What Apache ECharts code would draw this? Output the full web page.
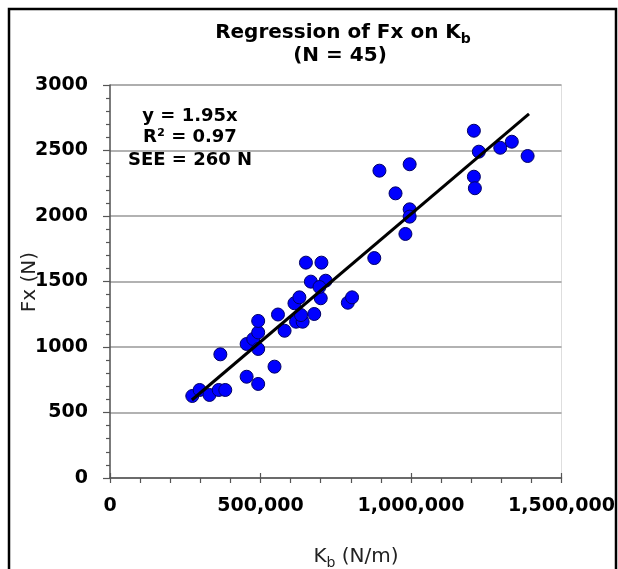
<!DOCTYPE html>
<html>
<head>
<meta charset="utf-8">
<script src="https://cdn.jsdelivr.net/npm/echarts@6/dist/echarts.min.js"></script>
<style>
  html, body { margin: 0; padding: 0; background: #ffffff; }
  #chart { width: 618px; height: 569px; }
</style>
</head>
<body>
<div id="chart"></div>
<script>
// Bending stiffness Kb (N/m) and force Fx (N) for each trial
const kb = [
  273400, 297700, 330500, 361100, 383000, 366600, 453900, 492300, 453900, 475900,
  492300, 492300, 492300, 546500, 558000, 580000, 612800, 629200, 618100, 640000,
  634500, 678500, 650900, 702400, 667300, 716500, 700100, 790100, 804200, 878000,
  895100, 995500, 948600, 995500, 995500, 981400, 1208900, 1225300, 1208900, 1212200,
  1296500, 1334900, 1387400, 695800
];
const fx = [
  626, 672, 634, 672, 672, 944, 773, 718, 1023, 1061,
  985, 1111, 1199, 850, 1248, 1124, 1334, 1379, 1193, 1193,
  1244, 1252, 1644, 1644, 1499, 1506, 1372, 1338, 1379, 1679,
  2346, 2395, 2173, 2051, 1995, 1863, 2651, 2491, 2300, 2212,
  2521, 2567, 2458, 1458
];

// Fitted line: slope of 1.95 N per mm of stiffness scale, small offset
const fitSlope = 1.95 / 1000;
const fitIntercept = 65;
const fitRange = [272000, 1392000];

const yTicks = { min: 0, max: 3000, step: 500 };
const xTicks = { min: 0, max: 1500000, step: 500000 };

const titleLines = ['Regression of Fx on K', 'b', '(N = 45)'];
const statLines = ['y = 1.95x', 'R\u00B2 = 0.97', 'SEE = 260 N'];

function withCommas(v) {
  return String(v).replace(/\B(?=(\d{3})+(?!\d))/g, ',');
}

const points = kb.map((k, i) => [k, fx[i]]);
const fitLine = fitRange.map(k => [k, fitSlope * k + fitIntercept]);

const FONT = 'DejaVu Sans';
const chart = echarts.init(document.getElementById('chart'), null, { renderer: 'canvas' });

chart.setOption({
  backgroundColor: '#ffffff',
  animation: false,
  grid: {
    left: 110, top: 85, width: 457, height: 393,
    show: true, borderColor: '#dedede', borderWidth: 1, backgroundColor: '#ffffff'
  },
  xAxis: [
    {
      type: 'value', min: xTicks.min, max: xTicks.max, interval: xTicks.step,
      axisLine: { show: true, lineStyle: { color: '#555', width: 1.5 } },
      axisTick: { show: true, inside: false, length: 5, lineStyle: { color: '#555', width: 1.2 } },
      minorTick: { show: true, splitNumber: 5, length: 5, lineStyle: { color: '#555', width: 1.2 } },
      splitLine: { show: false },
      axisLabel: {
        margin: 19, color: '#000', fontFamily: FONT, fontWeight: 'bold', fontSize: 19,
        formatter: withCommas
      }
    },
    {
      type: 'value', min: xTicks.min, max: xTicks.max, interval: xTicks.step,
      position: 'bottom',
      axisLine: { show: false },
      axisTick: { show: true, inside: true, length: 5, lineStyle: { color: '#555', width: 1.2 } },
      axisLabel: { show: false },
      splitLine: { show: false }
    }
  ],
  yAxis: {
    type: 'value', min: yTicks.min, max: yTicks.max, interval: yTicks.step,
    axisLine: { show: true, lineStyle: { color: '#555', width: 1.5 } },
    axisTick: { show: true, inside: false, length: 7, lineStyle: { color: '#555', width: 1.2 } },
    minorTick: { show: true, splitNumber: 5, length: 4, lineStyle: { color: '#555', width: 1.2 } },
    splitLine: { show: true, lineStyle: { color: '#999', width: 1.5 } },
    axisLabel: {
      margin: 22, color: '#000', fontFamily: FONT, fontWeight: 'bold', fontSize: 19,
      formatter: v => String(v)
    }
  },
  series: [
    {
      type: 'scatter',
      data: points,
      symbol: 'circle',
      symbolSize: 13,
      itemStyle: { color: '#0000ff', borderColor: '#000066', borderWidth: 1, opacity: 1 },
      z: 3
    },
    {
      type: 'line',
      data: fitLine,
      symbol: 'none',
      lineStyle: { color: '#000', width: 3 },
      z: 4
    }
  ],
  graphic: [
    {
      type: 'text', x: 343, y: 33, z: 10,
      style: {
        text: '{m|' + titleLines[0] + '}{s|' + titleLines[1] + '}',
        align: 'center', verticalAlign: 'middle',
        rich: {
          m: { fontFamily: FONT, fontWeight: 'bold', fontSize: 20, lineHeight: 26, verticalAlign: 'middle', fill: '#000' },
          s: { fontFamily: FONT, fontWeight: 'bold', fontSize: 14, lineHeight: 16, verticalAlign: 'bottom', fill: '#000' }
        }
      }
    },
    {
      type: 'text', x: 340, y: 56, z: 10,
      style: {
        text: titleLines[2], align: 'center', verticalAlign: 'middle',
        fontFamily: FONT, fontWeight: 'bold', fontSize: 20, fill: '#000'
      }
    },
    {
      type: 'text', x: 190, y: 116, z: 10,
      style: {
        text: statLines[0], align: 'center', verticalAlign: 'middle',
        fontFamily: FONT, fontWeight: 'bold', fontSize: 18, fill: '#000'
      }
    },
    {
      type: 'text', x: 190, y: 137, z: 10,
      style: {
        text: statLines[1], align: 'center', verticalAlign: 'middle',
        fontFamily: FONT, fontWeight: 'bold', fontSize: 18, fill: '#000'
      }
    },
    {
      type: 'text', x: 190, y: 160, z: 10,
      style: {
        text: statLines[2], align: 'center', verticalAlign: 'middle',
        fontFamily: FONT, fontWeight: 'bold', fontSize: 18, fill: '#000'
      }
    },
    {
      type: 'text', x: 356, y: 557, z: 10,
      style: {
        text: '{m|K}{s|b}{m| (N/m)}',
        align: 'center', verticalAlign: 'middle',
        rich: {
          m: { fontFamily: FONT, fontSize: 20, lineHeight: 26, verticalAlign: 'middle', fill: '#222' },
          s: { fontFamily: FONT, fontSize: 14, lineHeight: 16, verticalAlign: 'bottom', fill: '#222' }
        }
      }
    },
    {
      type: 'text', x: 30, y: 282, rotation: Math.PI / 2, z: 10,
      style: {
        text: 'Fx (N)', align: 'center', verticalAlign: 'middle',
        fontFamily: FONT, fontSize: 20, fill: '#222'
      }
    },
    {
      // strip beyond the frame's right edge
      type: 'rect', z: 19, silent: true,
      shape: { x: 616, y: 0, width: 4, height: 569 },
      style: { fill: '#ffffff' }
    },
    {
      type: 'rect', z: 20, silent: true,
      shape: { x: 9, y: 9, width: 607, height: 600 },
      style: { fill: 'none', stroke: '#000', lineWidth: 2.5 }
    }
  ]
});
</script>
</body>
</html>
